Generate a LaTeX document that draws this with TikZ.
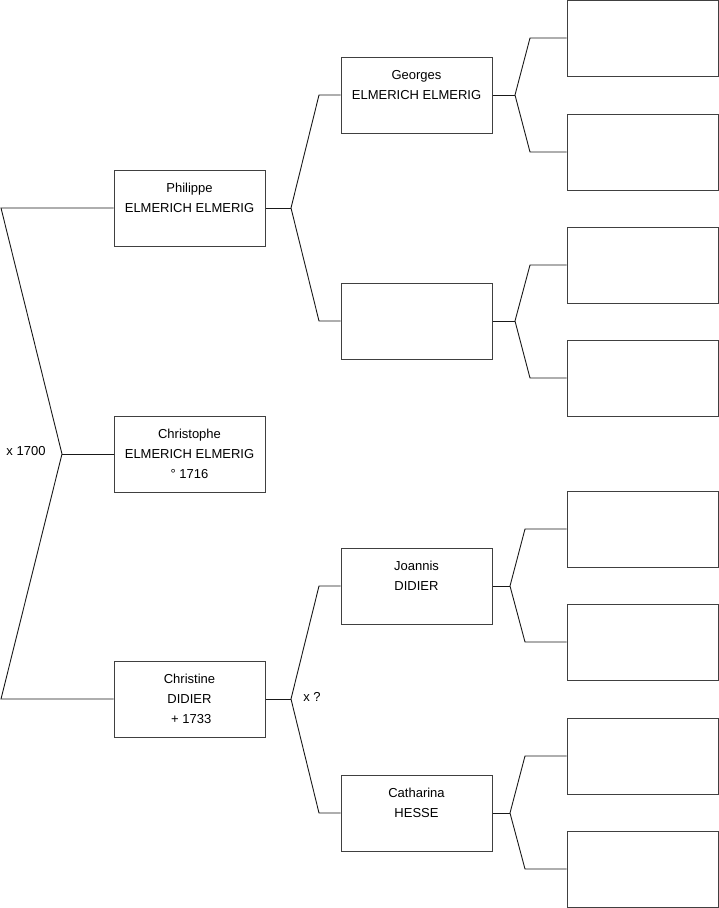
\documentclass[tikz,border=0pt]{standalone}
\usepackage{fontspec}
\setmainfont{Liberation Sans}
\begin{document}
\begin{tikzpicture}[x=1pt,y=-1pt,
  person/.style={draw=black!75, line width=1pt, fill=white, minimum width=151pt, minimum height=76pt,
    inner sep=0pt, align=center, font=\fontsize{13}{20}\selectfont},
  link/.style={draw=black!90, line width=0.9pt},
  lbl/.style={font=\fontsize{13}{20}\selectfont, inner sep=0pt}]
\useasboundingbox (0,0) rectangle (719,908);
% left column
\node[person] (phil) at (189.5,208) {\strut Philippe\\\strut ELMERICH ELMERIG\\\strut};
\node[person] (chro) at (189.5,454) {\strut Christophe\\\strut ELMERICH ELMERIG\\\strut ° 1716};
\node[person] (chri) at (189.5,699) {\strut Christine\\\strut DIDIER\\\strut \ + 1733};
% middle column
\node[person] (geo) at (416.5,95) {\strut Georges\\\strut ELMERICH ELMERIG\\\strut};
\node[person] (emp) at (416.5,321) {};
\node[person] (joa) at (416.5,586) {\strut Joannis\\\strut DIDIER\\\strut};
\node[person] (cat) at (416.5,813) {\strut Catharina\\\strut HESSE\\\strut};
% right column
\node[person] (r1) at (642.5,38) {};
\node[person] (r2) at (642.5,152) {};
\node[person] (r3) at (642.5,265) {};
\node[person] (r4) at (642.5,378) {};
\node[person] (r5) at (642.5,529) {};
\node[person] (r6) at (642.5,642) {};
\node[person] (r7) at (642.5,756) {};
\node[person] (r8) at (642.5,869) {};
% labels
\node[lbl] (m1) at (26,451) {x 1700};
\node[lbl] (m2) at (312,697) {x ?};
% fork coordinates
\coordinate (a0) at (1,208);
\coordinate (f0) at (62,454);
\coordinate (b0) at (1,699);
\coordinate (f1) at (291,208);
\coordinate (a1) at (319,95);
\coordinate (b1) at (319,321);
\coordinate (f2) at (291,699);
\coordinate (a2) at (319,586);
\coordinate (b2) at (319,813);
\coordinate (f3) at (515,95);
\coordinate (a3) at (530,38);
\coordinate (b3) at (530,152);
\coordinate (f4) at (515,321);
\coordinate (a4) at (530,265);
\coordinate (b4) at (530,378);
\coordinate (f5) at (510,586);
\coordinate (a5) at (525,529);
\coordinate (b5) at (525,642);
\coordinate (f6) at (510,813);
\coordinate (a6) at (525,756);
\coordinate (b6) at (525,869);
% connectors
\draw[link] (phil.west) -- (a0) -- (f0) -- (b0) -- (chri.west);
\draw[link] (f0) -- (chro.west);
\draw[link] (phil.east) -- (f1);
\draw[link] (geo.west) -- (a1) -- (f1) -- (b1) -- (emp.west);
\draw[link] (chri.east) -- (f2);
\draw[link] (joa.west) -- (a2) -- (f2) -- (b2) -- (cat.west);
\draw[link] (geo.east) -- (f3);
\draw[link] (r1.west) -- (a3) -- (f3) -- (b3) -- (r2.west);
\draw[link] (emp.east) -- (f4);
\draw[link] (r3.west) -- (a4) -- (f4) -- (b4) -- (r4.west);
\draw[link] (joa.east) -- (f5);
\draw[link] (r5.west) -- (a5) -- (f5) -- (b5) -- (r6.west);
\draw[link] (cat.east) -- (f6);
\draw[link] (r7.west) -- (a6) -- (f6) -- (b6) -- (r8.west);
\end{tikzpicture}
\end{document}
